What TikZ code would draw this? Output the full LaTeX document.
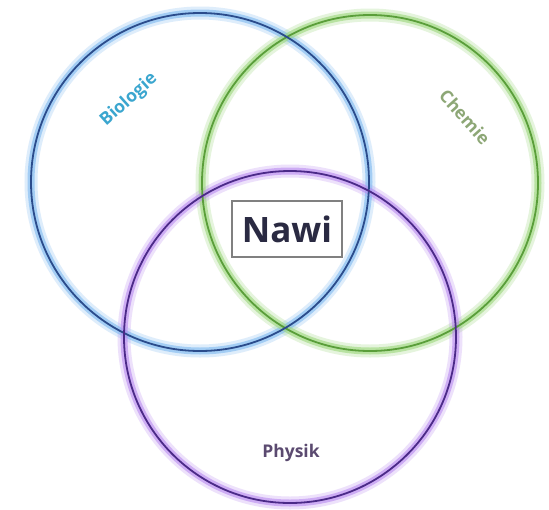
\documentclass[tikz,border=0pt]{standalone}
\usepackage{fontspec}
\setmainfont{Open Sans}
\usepackage{xcolor}
\definecolor{bioLine}{HTML}{2B4C8C}
\definecolor{bioGlow}{HTML}{7DB8F0}
\definecolor{bioText}{HTML}{3BA6CF}
\definecolor{chemLine}{HTML}{5A9E3A}
\definecolor{chemGlow}{HTML}{9BD77A}
\definecolor{chemText}{HTML}{8DA776}
\definecolor{physLine}{HTML}{4B2A88}
\definecolor{physGlow}{HTML}{B98AF0}
\definecolor{physText}{HTML}{5B4A70}
\definecolor{nawiText}{HTML}{2A2A42}
\tikzset{
  glowwide/.style={line width=13pt, draw opacity=0.25},
  glownarrow/.style={line width=7pt, draw opacity=0.6},
  ring/.style={line width=1.8pt},
  fach/.style={font=\fontsize{17.5}{18}\selectfont\bfseries},
  mitte/.style={draw=gray, line width=2pt, fill=white, minimum width=110pt, minimum height=56pt,
    font=\fontsize{35}{35}\selectfont\bfseries, text=nawiText}
}

\begin{document}
\begin{tikzpicture}[x=1pt, y=-1pt]
\useasboundingbox [fill=white] (0,0) rectangle (549,509);
% centres of the three subjects
\coordinate (bio) at (200,182);
\coordinate (chem) at (370,183);
\coordinate (phys) at (290,337);
% soft halos
\draw [glowwide, bioGlow] (bio) circle (169);
\draw [glowwide, chemGlow] (chem) circle (168);
\draw [glowwide, physGlow] (phys) circle (166);
\draw [glownarrow, bioGlow] (bio) circle (169);
\draw [glownarrow, chemGlow] (chem) circle (168);
\draw [glownarrow, physGlow] (phys) circle (166);
% rings
\draw [ring, chemLine] (chem) circle (168);
\draw [ring, bioLine] (bio) circle (169);
\draw [ring, physLine] (phys) circle (166);
% labels
\node [fach, text=bioText, rotate=42] (biologie) at (129,100) {Biologie};
\node [fach, text=chemText, rotate=-48] (chemie) at (465,117) {Chemie};
\node [fach, text=physText] (physik) at (291,453) {Physik};
\node [mitte] (nawi) at (287,229) {Nawi};
\end{tikzpicture}
\end{document}
